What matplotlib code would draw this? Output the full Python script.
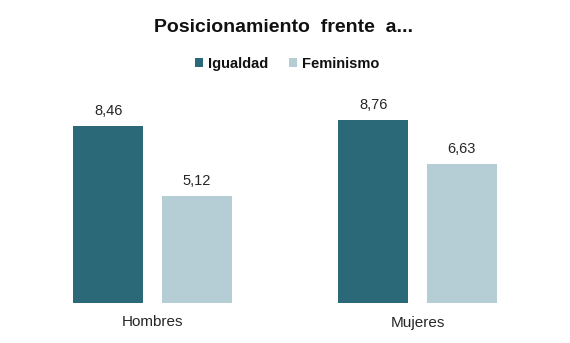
import matplotlib
matplotlib.use("Agg")
import matplotlib.pyplot as plt
import numpy as np

categories = ["Hombres", "Mujeres"]
series_names = ["Igualdad", "Feminismo"]
igualdad = [8.46, 8.76]
feminismo = [5.12, 6.63]
value_labels_ig = ["8,46", "8,76"]
value_labels_fe = ["5,12", "6,63"]
colors = ["#2B6878", "#B5CDD4"]

plt.rcParams['font.family'] = ['Liberation Sans', 'DejaVu Sans']

fig = plt.figure(figsize=(5.7, 3.43), dpi=100)
ax = fig.add_axes([20/570, 40/343, 530/570, 203/343])

x = np.arange(len(categories))
w = 70/265
off = 44.25/265
b1 = ax.bar(x - off, igualdad, w, color=colors[0], label=series_names[0])
b2 = ax.bar(x + off, feminismo, w, color=colors[1], label=series_names[1])

for bars, labs in ((b1, value_labels_ig), (b2, value_labels_fe)):
    for r, t in zip(bars, labs):
        ax.annotate(t, (r.get_x() + r.get_width()/2, r.get_height()),
                    xytext=(0, 8), textcoords="offset pixels",
                    ha="center", va="bottom", fontsize=10.5, color="#262626")

ax.set_xlim(-0.5, 1.5)
ax.set_ylim(0, 203/20.9)
ax.set_xticks(x)
ax.set_xticklabels(categories, fontsize=11, color="#262626")
ax.tick_params(axis="x", length=0, pad=9)
ax.set_yticks([])
for s in ax.spines.values():
    s.set_visible(False)

fig.text(284/570, 1 - 27/343, "Posicionamiento  frente  a...", ha="center", va="center",
         fontsize=14, fontweight="bold", color="#111111")

leg = fig.legend(handles=[b1, b2], labels=series_names, loc="center",
                 bbox_to_anchor=(287/570, 1 - 64/343), ncol=2, frameon=False,
                 prop={"weight": "bold", "size": 10.5}, handlelength=0.55, handleheight=0.55,
                 handletextpad=0.35, columnspacing=1.4)
for t in leg.get_texts():
    t.set_color("#111111")

fig.savefig("out.png", dpi=100, facecolor="white")
